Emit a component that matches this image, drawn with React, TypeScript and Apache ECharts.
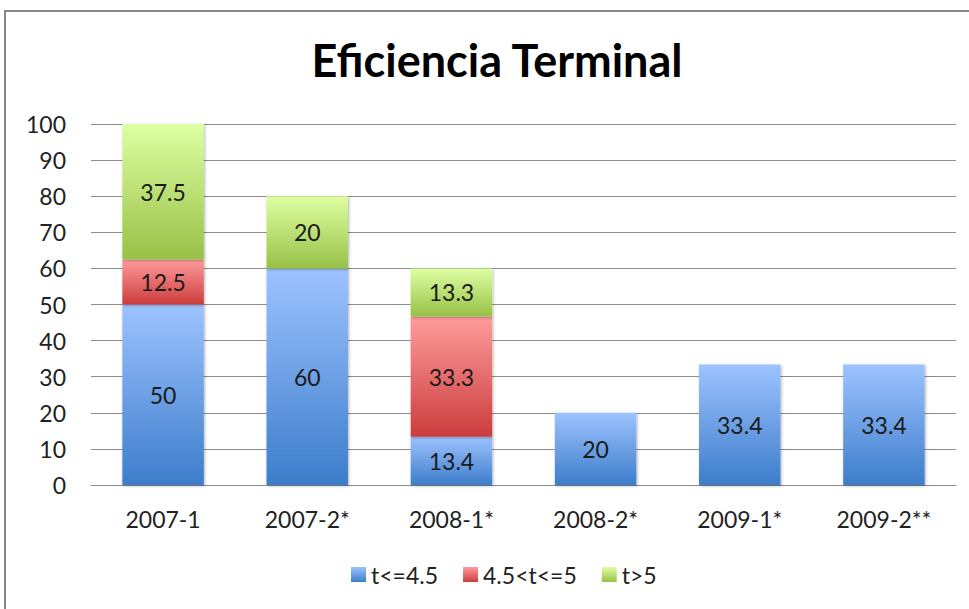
import React, { useEffect, useRef } from "react";
import * as echarts from "echarts";

const categories = ["2007-1", "2007-2*", "2008-1*", "2008-2*", "2009-1*", "2009-2**"];
const seriesNames = ["t<=4.5", "4.5<t<=5", "t>5"];
const lowValues = [50, 60, 13.4, 20, 33.4, 33.4];
const midValues = [12.5, null, 33.3, null, null, null];
const highValues = [37.5, 20, 13.3, null, null, null];
const yTicks = { min: 0, max: 100, interval: 10 };

const FONT = "Lato";

function grad(top: string, bottom: string) {
  return new echarts.graphic.LinearGradient(0, 0, 0, 1, [
    { offset: 0, color: top },
    { offset: 1, color: bottom },
  ]);
}

export default function App() {
  const ref = useRef<HTMLDivElement>(null);
  useEffect(() => {
    document.body.style.margin = "0";
    const chart = echarts.init(ref.current!, null, { renderer: "svg" });
    const colors = [
      grad("#9DC3FF", "#3D7DCB"),
      grad("#FF9C9C", "#CC3C3C"),
      grad("#DEFFA2", "#98C147"),
    ];
    const values = [lowValues, midValues, highValues];
    chart.setOption({
      animation: false,
      backgroundColor: "#ffffff",
      title: {
        text: "Eficiencia Terminal",
        left: 492,
        textAlign: "center",
        top: 32,
        textStyle: { fontFamily: FONT, fontWeight: "bold", fontSize: 45, color: "#000" },
      },
      graphic: [
        {
          type: "rect",
          shape: { x: 5, y: 11, width: 1000, height: 700 },
          style: { fill: "none", stroke: "#868686", lineWidth: 2 },
          silent: true,
        },
      ],
      legend: {
        bottom: 18,
        left: 346,
        itemWidth: 15,
        itemHeight: 15,
        itemGap: 25,
        icon: "rect",
        textStyle: { fontFamily: FONT, fontSize: 23, color: "#222" },
        data: seriesNames,
      },
      grid: { left: 91, right: 13, top: 124, bottom: 124 },
      xAxis: {
        type: "category",
        data: categories,
        axisLine: { show: true, lineStyle: { color: "#8c8c8c", width: 1 } },
        axisTick: { show: false },
        axisLabel: { fontFamily: FONT, fontSize: 23, color: "#222", margin: 22 },
      },
      yAxis: {
        type: "value",
        min: yTicks.min,
        max: yTicks.max,
        interval: yTicks.interval,
        axisLine: { show: false },
        axisTick: { show: false },
        splitLine: { lineStyle: { color: "#8c8c8c", width: 1 } },
        axisLabel: { fontFamily: FONT, fontSize: 23, color: "#222", margin: 25 },
      },
      series: seriesNames.map((name, i) => ({
        name,
        type: "bar",
        stack: "total",
        barWidth: "56.5%",
        data: values[i],
        itemStyle: {
          color: colors[i],
          shadowBlur: 3,
          shadowColor: "rgba(0,0,0,0.3)",
          shadowOffsetX: 1,
          shadowOffsetY: 1,
        },
        label: {
          show: true,
          position: "inside",
          fontFamily: FONT,
          fontSize: 23,
          color: "#1a1a1a",
        },
      })),
    });
    return () => chart.dispose();
  }, []);
  return <div ref={ref} style={{ width: 969, height: 609 }} />;
}
